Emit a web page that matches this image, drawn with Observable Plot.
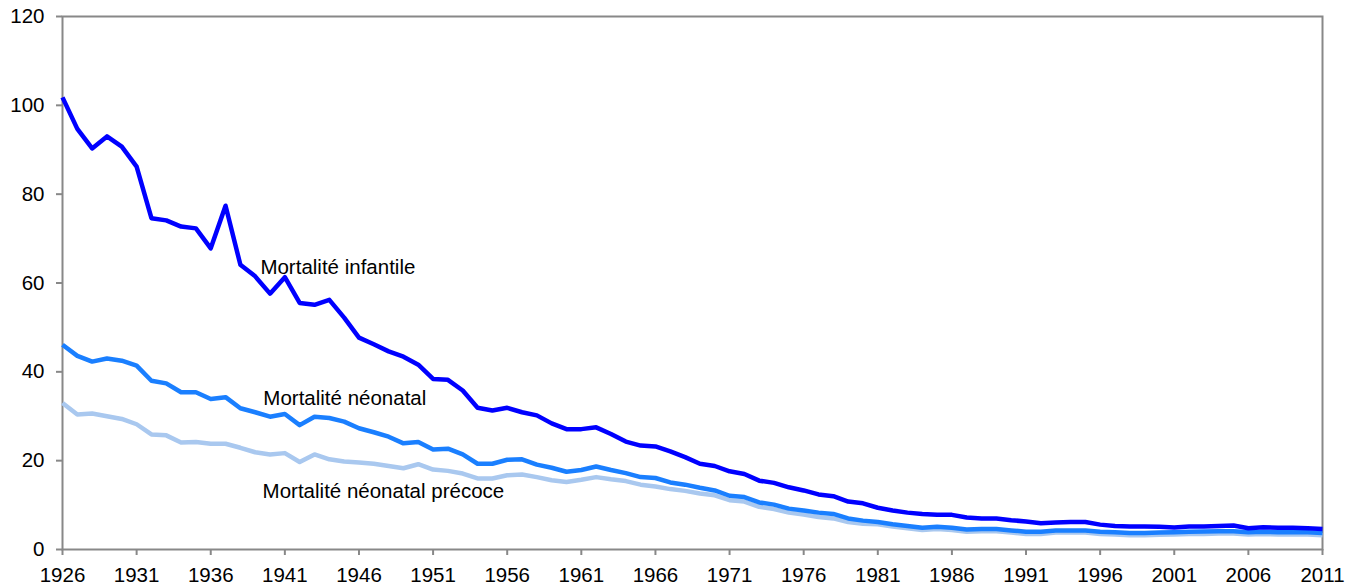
<!DOCTYPE html>
<html>
<head>
<meta charset="utf-8">
<script src="https://cdn.jsdelivr.net/npm/d3@7"></script>
<script src="https://cdn.jsdelivr.net/npm/@observablehq/plot@0.6"></script>
<style>
  html, body { margin: 0; padding: 0; background: #fff; }
  #chart svg { display: block; }
</style>
</head>
<body>
<div id="chart"></div>
<script>
const years = d3.range(1926, 2012);

const infantile = [
  101.8, 94.7, 90.3, 93.0, 90.7, 86.2, 74.6, 74.1, 72.7, 72.3,
  67.8, 77.4, 64.1, 61.5, 57.6, 61.3, 55.5, 55.1, 56.2, 52.2,
  47.7, 46.2, 44.6, 43.4, 41.6, 38.4, 38.2, 35.8, 31.9, 31.3,
  31.9, 30.9, 30.2, 28.4, 27.1, 27.1, 27.5, 26.0, 24.3, 23.4,
  23.2, 22.1, 20.8, 19.3, 18.8, 17.6, 17.0, 15.5, 15.0, 14.0,
  13.3, 12.4, 12.0, 10.8, 10.4, 9.4, 8.8, 8.3, 8.0, 7.8,
  7.8, 7.2, 7.0, 7.0, 6.6, 6.3, 5.9, 6.1, 6.2, 6.2,
  5.6, 5.3, 5.2, 5.2, 5.1, 4.95, 5.2, 5.2, 5.3, 5.4,
  4.8, 5.0, 4.9, 4.9, 4.8, 4.6
];

const neonatal = [
  46.1, 43.6, 42.3, 43.0, 42.5, 41.4, 38.0, 37.4, 35.4, 35.4,
  33.9, 34.3, 31.8, 30.9, 29.9, 30.5, 28.0, 29.9, 29.6, 28.8,
  27.3, 26.4, 25.4, 23.9, 24.2, 22.5, 22.7, 21.4, 19.3, 19.3,
  20.2, 20.3, 19.1, 18.4, 17.5, 17.9, 18.7, 17.9, 17.2, 16.3,
  16.1, 15.1, 14.6, 13.9, 13.3, 12.1, 11.8, 10.6, 10.1, 9.2,
  8.8, 8.3, 8.0, 7.0, 6.5, 6.2, 5.7, 5.3, 4.9, 5.1,
  4.9, 4.5, 4.6, 4.6, 4.3, 4.0, 4.0, 4.3, 4.3, 4.3,
  4.0, 3.9, 3.7, 3.7, 3.8, 3.9, 4.0, 4.05, 4.1, 4.1,
  3.9, 4.0, 3.9, 3.9, 3.9, 3.7
];

const precoce = [
  33.0, 30.4, 30.6, 30.0, 29.4, 28.2, 25.9, 25.7, 24.1, 24.2,
  23.8, 23.8, 22.9, 21.9, 21.4, 21.7, 19.7, 21.4, 20.3, 19.8,
  19.6, 19.3, 18.8, 18.3, 19.2, 18.0, 17.7, 17.1, 16.0, 16.0,
  16.7, 16.9, 16.3, 15.6, 15.2, 15.7, 16.3, 15.8, 15.4, 14.6,
  14.2, 13.6, 13.2, 12.6, 12.2, 11.1, 10.8, 9.6, 9.1, 8.3,
  7.9, 7.3, 7.0, 6.2, 5.8, 5.7, 5.2, 4.8, 4.4, 4.6,
  4.4, 4.0, 4.1, 4.1, 3.8, 3.5, 3.5, 3.8, 3.8, 3.8,
  3.5, 3.4, 3.2, 3.2, 3.3, 3.4, 3.5, 3.5, 3.6, 3.6,
  3.4, 3.5, 3.4, 3.4, 3.4, 3.2
];

const seriesNames = ["Mortalité néonatal précoce", "Mortalité néonatal", "Mortalité infantile"];
const seriesColors = ["#a9c8ef", "#1a7fff", "#0000ff"];
const seriesValues = [precoce, neonatal, infantile];

const labelTexts = ["Mortalité infantile", "Mortalité néonatal", "Mortalité néonatal précoce"];
const labelYears = [1939.35, 1939.55, 1939.5];
const labelValues = [63.6, 34.0, 13.0];

const xTicks = d3.range(1926, 2012, 5);
const yTicks = [0, 20, 40, 60, 80, 100, 120];

const rows = [];
seriesNames.forEach((name, i) => {
  years.forEach((yr, j) => rows.push({series: name, year: yr, value: seriesValues[i][j]}));
});
const labels = labelTexts.map((t, i) => ({text: t, year: labelYears[i], value: labelValues[i]}));

const chart = Plot.plot({
  width: 1354,
  height: 585,
  marginLeft: 62,
  marginRight: 32,
  marginTop: 16,
  marginBottom: 36,
  style: {fontFamily: "'Liberation Sans', Arial, sans-serif", fontSize: "20.5px", color: "#000", background: "#fff"},
  x: {domain: [1926, 2011], label: null},
  y: {domain: [0, 120], label: null},
  color: {domain: seriesNames, range: seriesColors},
  marks: [
    Plot.axisX({ticks: xTicks, tickFormat: d => String(d), tickSize: 6, tickPadding: 12, stroke: "#888", strokeWidth: 2, fill: "#000", fontSize: 20.5}),
    Plot.axisY({ticks: yTicks, tickSize: 6, tickPadding: 12, stroke: "#888", strokeWidth: 2, fill: "#000", fontSize: 20.5}),
    Plot.frame({stroke: "#888", strokeWidth: 2}),
    Plot.line(rows, {x: "year", y: "value", z: "series", stroke: "series", strokeWidth: 4.5, strokeLinejoin: "round", strokeLinecap: "butt"}),
    Plot.text(labels, {x: "year", y: "value", text: "text", textAnchor: "start", fill: "#000", fontSize: 20.5})
  ]
});

document.getElementById("chart").appendChild(chart);
</script>
</body>
</html>
